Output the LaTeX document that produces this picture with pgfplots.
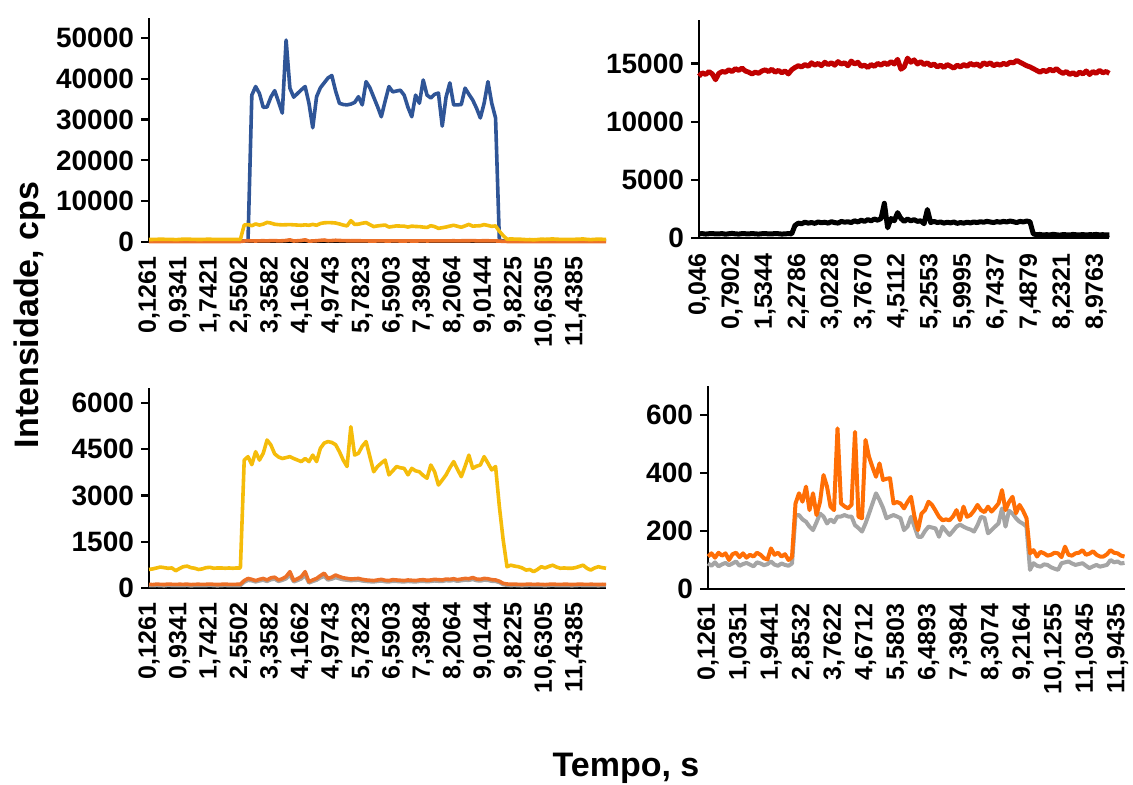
\documentclass[border=0pt]{standalone}
\usepackage{pgfplots}
\usepackage{pgfplotstable}
\pgfplotsset{compat=1.18}
\usepackage{fontspec}
\setmainfont{Liberation Sans}

\definecolor{cBlue}{RGB}{47,85,151}
\definecolor{cYellow}{RGB}{245,188,10}
\definecolor{cOrange}{RGB}{236,112,40}
\definecolor{cGrey}{RGB}{165,165,165}
\definecolor{cOrangeB}{RGB}{255,110,5}
\definecolor{cRed}{RGB}{192,0,0}

% sample index, blue, yellow, orange, grey (time step 0.101 s from 0.1261 s)
\pgfplotstableread[row sep=\\]{
i b y o g\\
0 250 600 120 80\\ 1 220 620 110 75\\ 2 260 650 125 85\\ 3 240 680 118 78\\ 4 230 660 112 72\\
5 270 640 128 88\\ 6 250 650 120 80\\ 7 240 560 115 76\\ 8 260 630 122 82\\ 9 230 690 118 78\\
10 250 710 125 85\\ 11 270 660 110 70\\ 12 240 640 118 78\\ 13 250 600 122 82\\ 14 230 620 115 75\\
15 260 660 120 80\\ 16 250 670 128 88\\ 17 240 640 118 78\\ 18 270 650 112 72\\ 19 250 650 120 80\\
20 230 640 125 85\\ 21 260 650 118 78\\ 22 240 640 115 75\\ 23 250 650 120 80\\ 24 260 650 122 82\\
25 280 4150 240 190\\ 26 300 4260 310 250\\ 27 36000 4000 280 235\\ 28 38100 4420 240 200\\ 29 36400 4150 280 230\\
30 33000 4370 310 255\\ 31 33100 4800 260 215\\ 32 35500 4640 330 270\\ 33 37100 4350 350 290\\ 34 34400 4250 260 215\\
35 31600 4200 300 250\\ 36 49500 4230 370 300\\ 37 37700 4260 530 420\\ 38 35500 4200 240 200\\ 39 36400 4150 300 245\\
40 37300 4100 370 300\\ 41 38100 4200 530 410\\ 42 34000 4100 200 165\\ 43 28000 4310 260 215\\ 44 35600 4100 310 255\\
45 37800 4530 400 330\\ 46 39000 4700 480 380\\ 47 40200 4750 310 260\\ 48 40800 4720 350 290\\ 49 37000 4650 420 340\\
50 34000 4420 370 300\\ 51 33700 4150 330 270\\ 52 33600 3940 310 255\\ 53 33800 5230 290 240\\ 54 34200 4310 300 250\\
55 35600 4370 310 255\\ 56 33600 4600 280 230\\ 57 39300 4750 260 215\\ 58 37800 4260 250 205\\ 59 35500 3770 240 200\\
60 33200 3940 260 215\\ 61 30700 4050 280 230\\ 62 34500 4150 250 205\\ 63 38100 3670 240 200\\ 64 36800 3800 270 220\\
65 37000 3940 260 215\\ 66 37200 3900 250 205\\ 67 36000 3880 240 200\\ 68 33000 3670 260 215\\ 69 30700 3880 250 205\\
70 36000 3800 240 200\\ 71 34000 3770 260 215\\ 72 39700 3650 270 220\\ 73 36000 3560 250 205\\ 74 35300 3990 260 215\\
75 36200 3770 280 230\\ 76 36500 3340 270 220\\ 77 28400 3500 260 215\\ 78 35500 3670 290 240\\ 79 39000 3900 280 230\\
80 33600 4100 300 250\\ 81 33600 3850 270 220\\ 82 33700 3610 290 240\\ 83 37700 3950 310 255\\ 84 36200 4310 300 250\\
85 34800 3880 340 280\\ 86 32800 3950 290 240\\ 87 30400 3990 280 230\\ 88 34000 4260 310 255\\ 89 39300 4050 300 250\\
90 34000 3830 270 220\\ 91 30400 3940 260 215\\ 92 400 2640 220 180\\ 93 260 1560 150 110\\ 94 240 690 130 90\\
95 250 740 120 80\\ 96 270 710 125 85\\ 97 230 690 118 78\\ 98 250 650 112 72\\ 99 260 580 120 80\\
100 240 600 125 85\\ 101 250 530 115 75\\ 102 230 600 122 82\\ 103 260 690 118 78\\ 104 250 650 110 70\\
105 240 700 120 80\\ 106 270 740 128 88\\ 107 250 680 118 78\\ 108 240 640 115 75\\ 109 230 650 122 82\\
110 260 640 120 80\\ 111 250 640 112 72\\ 112 240 660 118 78\\ 113 250 700 125 85\\ 114 270 740 120 80\\
115 230 640 115 75\\ 116 250 580 122 82\\ 117 260 650 118 78\\ 118 240 690 112 72\\ 119 250 660 120 80\\
120 230 640 118 78\\
}\tabAC

% ten points per label step (0.7442 s from 0.046 s): red, black
\pgfplotstableread[row sep=\\]{
i r k\\
0 13900 380\\ 1 14200 400\\ 2 14050 360\\ 3 14300 390\\ 4 14100 410\\ 5 13600 370\\ 6 14150 380\\ 7 14300 400\\
8 14250 350\\ 9 14450 390\\ 10 14300 420\\ 11 14550 380\\ 12 14400 360\\ 13 14600 400\\ 14 14350 390\\ 15 14250 370\\
16 14100 410\\ 17 14250 380\\ 18 14150 360\\ 19 14350 390\\ 20 14450 400\\ 21 14300 380\\ 22 14500 370\\ 23 14250 410\\
24 14400 390\\ 25 14200 360\\ 26 14350 380\\ 27 14100 400\\ 28 14450 380\\ 29 14650 1100\\ 30 14800 1300\\ 31 14700 1250\\
32 14900 1380\\ 33 14750 1300\\ 34 15050 1350\\ 35 14850 1280\\ 36 15000 1400\\ 37 14800 1330\\ 38 15100 1380\\ 39 14900 1300\\
40 15050 1420\\ 41 14850 1350\\ 42 15150 1300\\ 43 14950 1450\\ 44 15050 1380\\ 45 14800 1420\\ 46 15200 1350\\ 47 14950 1500\\
48 15100 1400\\ 49 14750 1550\\ 50 14850 1450\\ 51 14650 1600\\ 52 14900 1500\\ 53 14750 1650\\ 54 15000 1550\\ 55 14850 1700\\
56 15050 3000\\ 57 14900 900\\ 58 15150 1700\\ 59 14950 1500\\ 60 15350 2200\\ 61 14500 1700\\ 62 14700 1450\\ 63 15450 1650\\
64 15100 1500\\ 65 15300 1600\\ 66 14950 1450\\ 67 15150 1500\\ 68 14900 1250\\ 69 15050 2470\\ 70 14800 1350\\ 71 14950 1450\\
72 14700 1350\\ 73 14850 1400\\ 74 14650 1300\\ 75 14900 1380\\ 76 14750 1320\\ 77 14600 1400\\ 78 14850 1280\\ 79 14700 1350\\
80 14900 1300\\ 81 14750 1380\\ 82 15000 1320\\ 83 14850 1400\\ 84 14950 1350\\ 85 14750 1420\\ 86 15050 1380\\ 87 14900 1450\\
88 15050 1400\\ 89 14800 1350\\ 90 14950 1430\\ 91 14850 1380\\ 92 15000 1450\\ 93 14900 1400\\ 94 15100 1480\\ 95 15050 1420\\
96 15250 1350\\ 97 15100 1450\\ 98 14950 1400\\ 99 14800 1480\\ 100 14700 1420\\ 101 14550 380\\ 102 14400 300\\ 103 14250 330\\
104 14400 280\\ 105 14300 310\\ 106 14500 290\\ 107 14350 340\\ 108 14550 300\\ 109 14300 270\\ 110 14150 320\\ 111 14300 300\\
112 14050 280\\ 113 14200 330\\ 114 14000 300\\ 115 14250 290\\ 116 14100 320\\ 117 14350 280\\ 118 14050 310\\ 119 14300 300\\
120 14150 330\\ 121 14400 290\\ 122 14200 310\\ 123 14300 280\\ 124 14150 300\\
}\tabB

% sample index, orange, grey (time step 0.101 s from 0.1261 s)
\pgfplotstableread[row sep=\\]{
i o g\\
0 112 88\\ 1 123 80\\ 2 108 92\\ 3 125 78\\ 4 115 85\\ 5 123 90\\ 6 100 82\\ 7 120 88\\ 8 125 95\\ 9 110 80\\
10 123 86\\ 11 108 90\\ 12 118 84\\ 13 112 78\\ 14 125 92\\ 15 118 88\\ 16 106 82\\ 17 102 86\\ 18 140 95\\ 19 118 84\\
20 125 80\\ 21 112 88\\ 22 120 83\\ 23 100 80\\ 24 110 88\\ 25 295 255\\ 26 330 255\\ 27 301 240\\ 28 353 232\\ 29 272 215\\
30 330 203\\ 31 255 230\\ 32 300 260\\ 33 393 250\\ 34 353 226\\ 35 284 240\\ 36 272 230\\ 37 554 250\\ 38 295 250\\ 39 285 255\\
40 278 250\\ 41 290 250\\ 42 542 220\\ 43 249 210\\ 44 244 198\\ 45 514 226\\ 46 456 260\\ 47 420 295\\ 48 387 330\\ 49 433 307\\
50 376 280\\ 51 380 244\\ 52 382 250\\ 53 295 255\\ 54 300 250\\ 55 295 244\\ 56 278 203\\ 57 300 215\\ 58 318 249\\ 59 249 215\\
60 203 180\\ 61 260 180\\ 62 272 200\\ 63 301 215\\ 64 290 212\\ 65 270 209\\ 66 249 180\\ 67 237 215\\ 68 240 200\\ 69 237 186\\
70 250 200\\ 71 272 215\\ 72 237 222\\ 73 284 215\\ 74 249 209\\ 75 255 205\\ 76 270 198\\ 77 290 220\\ 78 272 249\\ 79 265 245\\
80 284 192\\ 81 267 203\\ 82 280 215\\ 83 295 226\\ 84 341 278\\ 85 272 215\\ 86 300 270\\ 87 318 260\\ 88 261 244\\ 89 290 232\\
90 270 225\\ 91 244 215\\ 92 123 66\\ 93 134 89\\ 94 112 80\\ 95 128 77\\ 96 123 85\\ 97 115 83\\ 98 118 75\\ 99 125 70\\
100 123 66\\ 101 110 89\\ 102 146 92\\ 103 118 95\\ 104 115 88\\ 105 123 83\\ 106 125 86\\ 107 134 89\\ 108 118 80\\ 109 122 72\\
110 130 78\\ 111 118 83\\ 112 112 77\\ 113 112 80\\ 114 120 83\\ 115 134 100\\ 116 125 92\\ 117 123 95\\ 118 115 88\\ 119 112 90\\
}\tabD

\pgfplotsset{
  panel/.style={
    scale only axis, anchor=south west, clip=false,
    axis x line*=bottom, axis y line*=left,
    axis line style={line width=1.1pt, black, -},
    xmin=0, ymin=0,
    tick align=outside, major tick length=4pt,
    xtick style={draw=none},
    ytick style={line width=1.1pt, black},
    scaled y ticks=false,
    /pgf/number format/assume math mode=true,
    /pgf/number format/1000 sep={},
    xticklabel style={rotate=90, anchor=east, font=\bfseries\fontsize{12.5}{13}\selectfont},
    yticklabel style={font=\bfseries\fontsize{14}{15}\selectfont},
    every axis plot/.append style={line width=1.8pt, line join=round, no marks},
  },
  ticksAC/.style={xtick={0,8,...,112},
    xticklabels={{0,1261},{0,9341},{1,7421},{2,5502},{3,3582},{4,1662},{4,9743},{5,7823},{6,5903},{7,3984},{8,2064},{9,0144},{9,8225},{10,6305},{11,4385}}},
}

\begin{document}
\begin{tikzpicture}
% page frame in pixel-like units of 0.5pt
\useasboundingbox (0,0) rectangle (566.5pt,392.5pt);
\coordinate (pA) at (74.5pt,271.5pt);
\coordinate (pB) at (349.5pt,273.35pt);
\coordinate (pC) at (74.5pt,98.5pt);
\coordinate (pD) at (354pt,98pt);

% upper left
\begin{axis}[panel, ticksAC, at={(pA)}, width=228.5pt, height=112.2pt,
  xmax=120, ymax=55000, ytick={0,10000,...,50000}]
  \addplot[cBlue] table[x=i,y=b]{\tabAC};
  \addplot[cOrange] table[x=i,y=o]{\tabAC};
  \addplot[cYellow] table[x=i,y=y]{\tabAC};
\end{axis}

% upper right
\begin{axis}[panel, at={(pB)}, width=205.2pt, height=109.3pt,
  xmax=124, ymax=18750, ytick={0,5000,10000,15000},
  xtick={0,10,...,120},
  xticklabels={{0,046},{0,7902},{1,5344},{2,2786},{3,0228},{3,7670},{4,5112},{5,2553},{5,9995},{6,7437},{7,4879},{8,2321},{8,9763}}]
  \addplot[cRed, line width=2.5pt] table[x=i,y=r]{\tabB};
  \addplot[black, line width=2.5pt] table[x=i,y=k]{\tabB};
\end{axis}

% lower left
\begin{axis}[panel, ticksAC, at={(pC)}, width=228.5pt, height=100.2pt,
  xmax=120, ymax=6500, ytick={0,1500,...,6000}]
  \addplot[cGrey] table[x=i,y=g]{\tabAC};
  \addplot[cOrange] table[x=i,y=o]{\tabAC};
  \addplot[cYellow] table[x=i,y=y]{\tabAC};
\end{axis}

% lower right
\begin{axis}[panel, at={(pD)}, width=208.25pt, height=101.5pt,
  xmax=119, ymax=700, ytick={0,200,400,600},
  xtick={0,9,...,117},
  xticklabels={{0,1261},{1,0351},{1,9441},{2,8532},{3,7622},{4,6712},{5,5803},{6,4893},{7,3984},{8,3074},{9,2164},{10,1255},{11,0345},{11,9435}}]
  \addplot[cGrey, line width=2pt] table[x=i,y=g]{\tabD};
  \addplot[cOrangeB, line width=2pt] table[x=i,y=o]{\tabD};
\end{axis}

\node[rotate=90, font=\bfseries\fontsize{17}{20}\selectfont] at (15pt,235pt) {Intensidade, cps};
\node[font=\bfseries\fontsize{17}{20}\selectfont] at (313pt,8.5pt) {Tempo, s};
\end{tikzpicture}
\end{document}
